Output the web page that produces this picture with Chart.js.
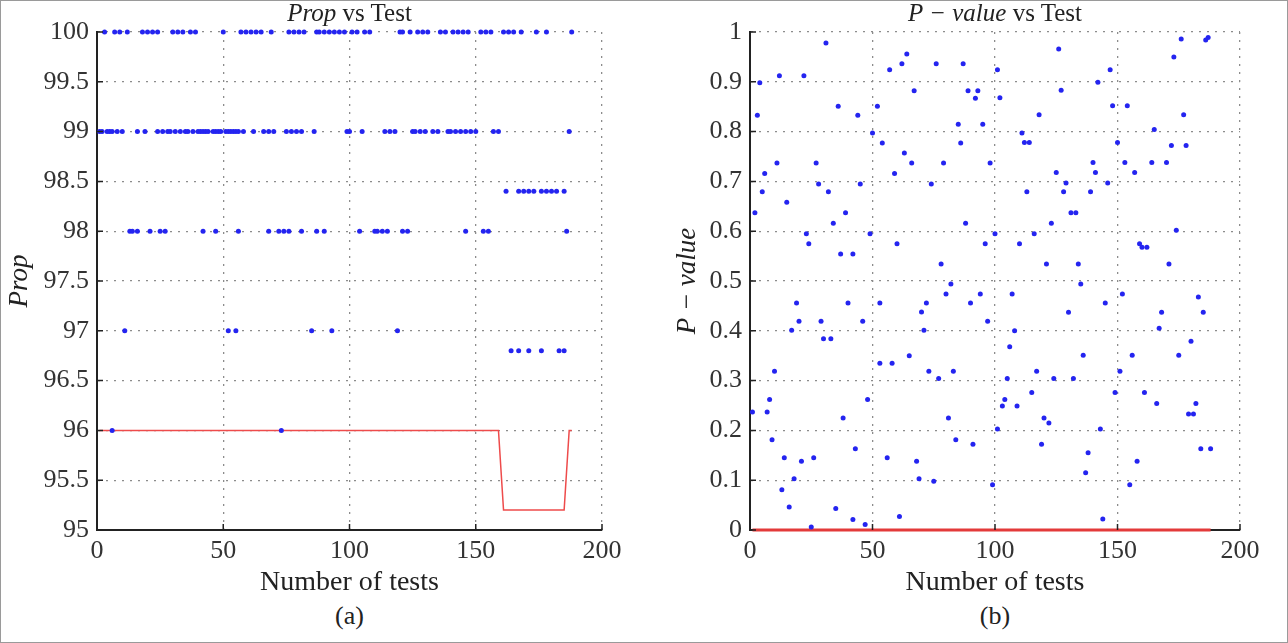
<!DOCTYPE html>
<html>
<head>
<meta charset="utf-8">
<script src="https://cdn.jsdelivr.net/npm/chart.js@4"></script>
<style>
body { margin: 0; background: #fff; }
#frame { position: absolute; left: 0; top: 0; width: 1286px; height: 641px; border: 1px solid #9a9a9a; }
canvas { position: absolute; top: 0; }
.ttl { position: absolute; top: 0; line-height: 25px; text-align: center; font-size: 25px; font-family: "Liberation Serif"; color: #222; white-space: nowrap; }
.cap { position: absolute; top: 603px; line-height: 26px; text-align: center; font-size: 26px; font-family: "Liberation Serif"; color: #222; }
</style>
</head>
<body>
<div id="frame"></div>
<canvas id="propChart" width="640" height="600" style="left:0"></canvas>
<canvas id="pvalChart" width="648" height="600" style="left:640px"></canvas>
<div class="ttl" style="left:97px;width:505px"><i>Prop</i> vs Test</div>
<div class="ttl" style="left:750px;width:490px"><i>P − value</i> vs Test</div>
<div class="cap" style="left:97px;width:505px">(a)</div>
<div class="cap" style="left:750px;width:490px">(b)</div>
<script>
// ось x общая для двух графиков
const testTicks = [0, 50, 100, 150, 200];
const propTicks = [95, 95.5, 96, 96.5, 97, 97.5, 98, 98.5, 99, 99.5, 100];
const pvalTicks = [0, 0.1, 0.2, 0.3, 0.4, 0.5, 0.6, 0.7, 0.8, 0.9, 1];

// (a) номера тестов для каждого уровня Prop
const propLevels = [100, 99, 98.4, 98, 97, 96.8, 96];
const prop100 = [3, 7, 9, 12, 18, 20, 22, 24, 30, 32, 34, 37, 39, 50, 57, 59, 61, 63, 65, 69, 76, 78, 80, 82, 87, 88, 90, 92, 94, 96, 98,
	101, 103, 106, 108, 120, 121, 124, 127, 129, 131, 136, 138, 141, 143, 145, 147, 152, 154, 156, 161, 163, 165, 168, 174, 178, 188];
const prop99 = [1, 2, 4, 5, 6, 8, 10, 16, 19, 24, 26, 28, 29, 31, 33, 35, 36, 38, 40, 41, 42, 43, 44, 46, 47, 48, 49, 51, 52, 53, 54, 55,
	56, 58, 62, 66, 68, 70, 75, 77, 79, 81, 86, 99, 100, 105, 114, 116, 118, 125, 126, 128, 130, 133, 135, 139, 140, 142, 144, 146, 148,
	150, 157, 159, 187];
const prop98_4 = [162, 167, 169, 171, 173, 176, 178, 180, 182, 185];
const prop98 = [13, 14, 16, 21, 25, 27, 42, 47, 56, 68, 72, 74, 76, 81, 87, 90, 104, 110, 111, 113, 115, 121, 123, 146, 153, 155, 186];
const prop97 = [11, 52, 55, 85, 93, 119];
const prop96_8 = [164, 167, 171, 176, 183, 185];
const prop96 = [6, 73];
const propTests = [prop100, prop99, prop98_4, prop98, prop97, prop96_8, prop96];

// красная линия - минимально допустимая доля
const propLimitX = [1, 159, 161, 185, 187, 188];
const propLimitY = [96, 96, 95.2, 95.2, 96, 96];

// (b) P-value
const pvalX = [31, 12, 22, 4, 64, 62, 57, 76, 87, 101, 67, 89, 93, 92, 36, 3, 44, 52, 50, 85, 95, 54, 86, 11, 27, 63, 66, 79, 98, 6, 59, 28, 45, 74,
	5, 32, 15, 2, 39, 34, 88, 23, 49, 100, 24, 60, 96, 37, 42, 78, 82, 80, 94, 19, 40, 53, 90, 70, 72, 20, 29, 46, 97, 17, 71, 30, 33, 65,
	53, 58, 10, 73, 83, 77, 8, 1, 7, 48, 38, 81, 9, 84, 91, 43, 14, 21, 26, 56, 68, 18, 13, 69, 75, 99, 16, 35, 42, 61, 47, 25,
	126, 147, 176, 186, 187, 173, 142, 127, 102, 148, 154, 118, 177, 111, 112, 114, 150, 165, 172, 178, 140, 153, 164, 170, 125, 141, 157, 129, 146,
	113, 128, 139, 131, 133, 123, 116, 110, 174, 159, 160, 162, 121, 134, 171, 135, 107, 152, 183, 145, 130, 168, 185, 108, 167, 106, 180, 136, 156, 175,
	117, 105, 124, 132, 151, 115, 149, 161, 104, 103, 109, 166, 182, 120, 122, 179, 181, 101, 143, 119, 138, 184, 188, 158, 137, 155, 144];
const pvalY = [0.978, 0.912, 0.912, 0.898, 0.956, 0.936, 0.924, 0.936, 0.936, 0.924, 0.882, 0.882, 0.882, 0.867, 0.851, 0.833, 0.833, 0.851, 0.797, 0.815,
	0.815, 0.777, 0.777, 0.737, 0.737, 0.757, 0.737, 0.737, 0.737, 0.716, 0.716, 0.695, 0.695, 0.695,
	0.679, 0.679, 0.658, 0.637, 0.637, 0.616, 0.616, 0.595, 0.595, 0.595, 0.575, 0.575, 0.575, 0.554, 0.554, 0.534, 0.494, 0.474, 0.474, 0.456,
	0.456, 0.456, 0.456, 0.438, 0.456, 0.419, 0.419, 0.419, 0.419, 0.401, 0.401, 0.384, 0.384, 0.35,
	0.335, 0.335, 0.319, 0.319, 0.319, 0.304, 0.262, 0.237, 0.237, 0.262, 0.225, 0.225, 0.181, 0.181, 0.172, 0.163, 0.145, 0.138, 0.145, 0.145,
	0.138, 0.103, 0.081, 0.103, 0.098, 0.091, 0.046, 0.043, 0.021, 0.027, 0.011, 0.006,
	0.966, 0.924, 0.986, 0.984, 0.989, 0.95, 0.899, 0.883, 0.868, 0.852, 0.852, 0.834, 0.834, 0.797, 0.778, 0.778, 0.778, 0.804, 0.772, 0.772,
	0.738, 0.738, 0.738, 0.738, 0.718, 0.718, 0.718, 0.697, 0.697,
	0.679, 0.679, 0.679, 0.637, 0.637, 0.616, 0.595, 0.575, 0.602, 0.575, 0.568, 0.568, 0.534, 0.534, 0.534, 0.494, 0.474, 0.474, 0.468, 0.456,
	0.437, 0.437, 0.437, 0.4, 0.405, 0.368, 0.379, 0.351, 0.351, 0.351,
	0.319, 0.304, 0.304, 0.304, 0.319, 0.276, 0.276, 0.276, 0.262, 0.249, 0.249, 0.254, 0.254, 0.225, 0.215, 0.233, 0.233, 0.203, 0.203, 0.172,
	0.155, 0.163, 0.163, 0.138, 0.115, 0.091, 0.022];
const pvalLimitX = [1, 188];
const pvalLimitY = [0, 0];

const serif = "Liberation Serif";

// засечки внутрь области графика, как в matlab
const inwardTicks = {
	id: "inwardTicks",
	afterDraw(chart) {
		const {
			ctx,
			chartArea: { left, bottom },
			scales: { x, y },
		} = chart;
		ctx.save();
		ctx.strokeStyle = "#222";
		ctx.lineWidth = 1.5;
		ctx.beginPath();
		y.ticks.forEach((t) => {
			const py = y.getPixelForValue(t.value);
			ctx.moveTo(left, py);
			ctx.lineTo(left + 6, py);
		});
		x.ticks.forEach((t) => {
			const px = x.getPixelForValue(t.value);
			ctx.moveTo(px, bottom);
			ctx.lineTo(px, bottom - 6);
		});
		ctx.stroke();
		ctx.restore();
	},
};

function makeConfig(points, limit, yOpts) {
	return {
		type: "scatter",
		data: {
			datasets: [
				{
					data: points,
					pointRadius: 2.5,
					pointBackgroundColor: "#2424f0",
					pointBorderWidth: 0,
					clip: 6,
				},
				{
					type: "line",
					data: limit,
					borderColor: yOpts.lineColor,
					borderWidth: yOpts.lineWidth,
					pointRadius: 0,
					fill: false,
					tension: 0,
					clip: 6,
				},
			],
		},
		options: {
			responsive: false,
			animation: false,
			events: [],
			layout: {
				padding: { top: 32, right: yOpts.padRight, left: 0, bottom: 0 },
			},
			plugins: {
				legend: { display: false },
				tooltip: { enabled: false },
			},
			scales: {
				x: {
					type: "linear",
					min: 0,
					max: 200,
					afterBuildTicks: (s) => {
						s.ticks = testTicks.map((v) => ({ value: v }));
					},
					afterFit: (s) => {
						s.height = 70;
					},
					grid: { color: "#8c8c8c", lineWidth: 1.3, drawTicks: false },
					border: { color: "#222", width: 2, dash: [2, 6] },
					ticks: {
						padding: 6,
						color: "#333",
						font: { family: serif, size: 26 },
						maxRotation: 0,
						callback: (v) => String(v),
					},
					title: {
						display: true,
						text: "Number of tests",
						color: "#222",
						font: { family: serif, size: 28 },
						padding: { bottom: 1 },
					},
				},
				y: {
					type: "linear",
					min: yOpts.min,
					max: yOpts.max,
					afterBuildTicks: (s) => {
						s.ticks = yOpts.ticks.map((v) => ({ value: v }));
					},
					afterFit: (s) => {
						s.width = yOpts.axisWidth;
					},
					grid: { color: "#8c8c8c", lineWidth: 1.3, drawTicks: false },
					border: { color: "#222", width: 2, dash: [2, 6] },
					ticks: {
						padding: 8,
						color: "#333",
						font: { family: serif, size: 26 },
						callback: (v) => String(v),
					},
					title: {
						display: true,
						text: yOpts.title,
						color: "#222",
						font: { family: serif, size: 27, style: "italic" },
						padding: { top: yOpts.titlePad },
					},
				},
			},
		},
		plugins: [inwardTicks],
	};
}

const propPoints = [];
propTests.forEach((tests, i) => {
	tests.forEach((t) => propPoints.push({ x: t, y: propLevels[i] }));
});
const propLimit = propLimitX.map((x, i) => ({ x: x, y: propLimitY[i] }));

const pvalPoints = pvalX.map((x, i) => ({ x: x, y: pvalY[i] }));
const pvalLimit = pvalLimitX.map((x, i) => ({ x: x, y: pvalLimitY[i] }));

new Chart(
	document.getElementById("propChart"),
	makeConfig(propPoints, propLimit, {
		min: 95,
		max: 100,
		ticks: propTicks,
		title: "Prop",
		titlePad: 4,
		axisWidth: 97,
		padRight: 38,
		lineColor: "#ee4b4b",
		lineWidth: 1.5,
	})
);

new Chart(
	document.getElementById("pvalChart"),
	makeConfig(pvalPoints, pvalLimit, {
		min: 0,
		max: 1,
		ticks: pvalTicks,
		title: "P − value",
		titlePad: 32,
		axisWidth: 110,
		padRight: 48,
		lineColor: "#e33a3a",
		lineWidth: 3,
	})
);
</script>
</body>
</html>
